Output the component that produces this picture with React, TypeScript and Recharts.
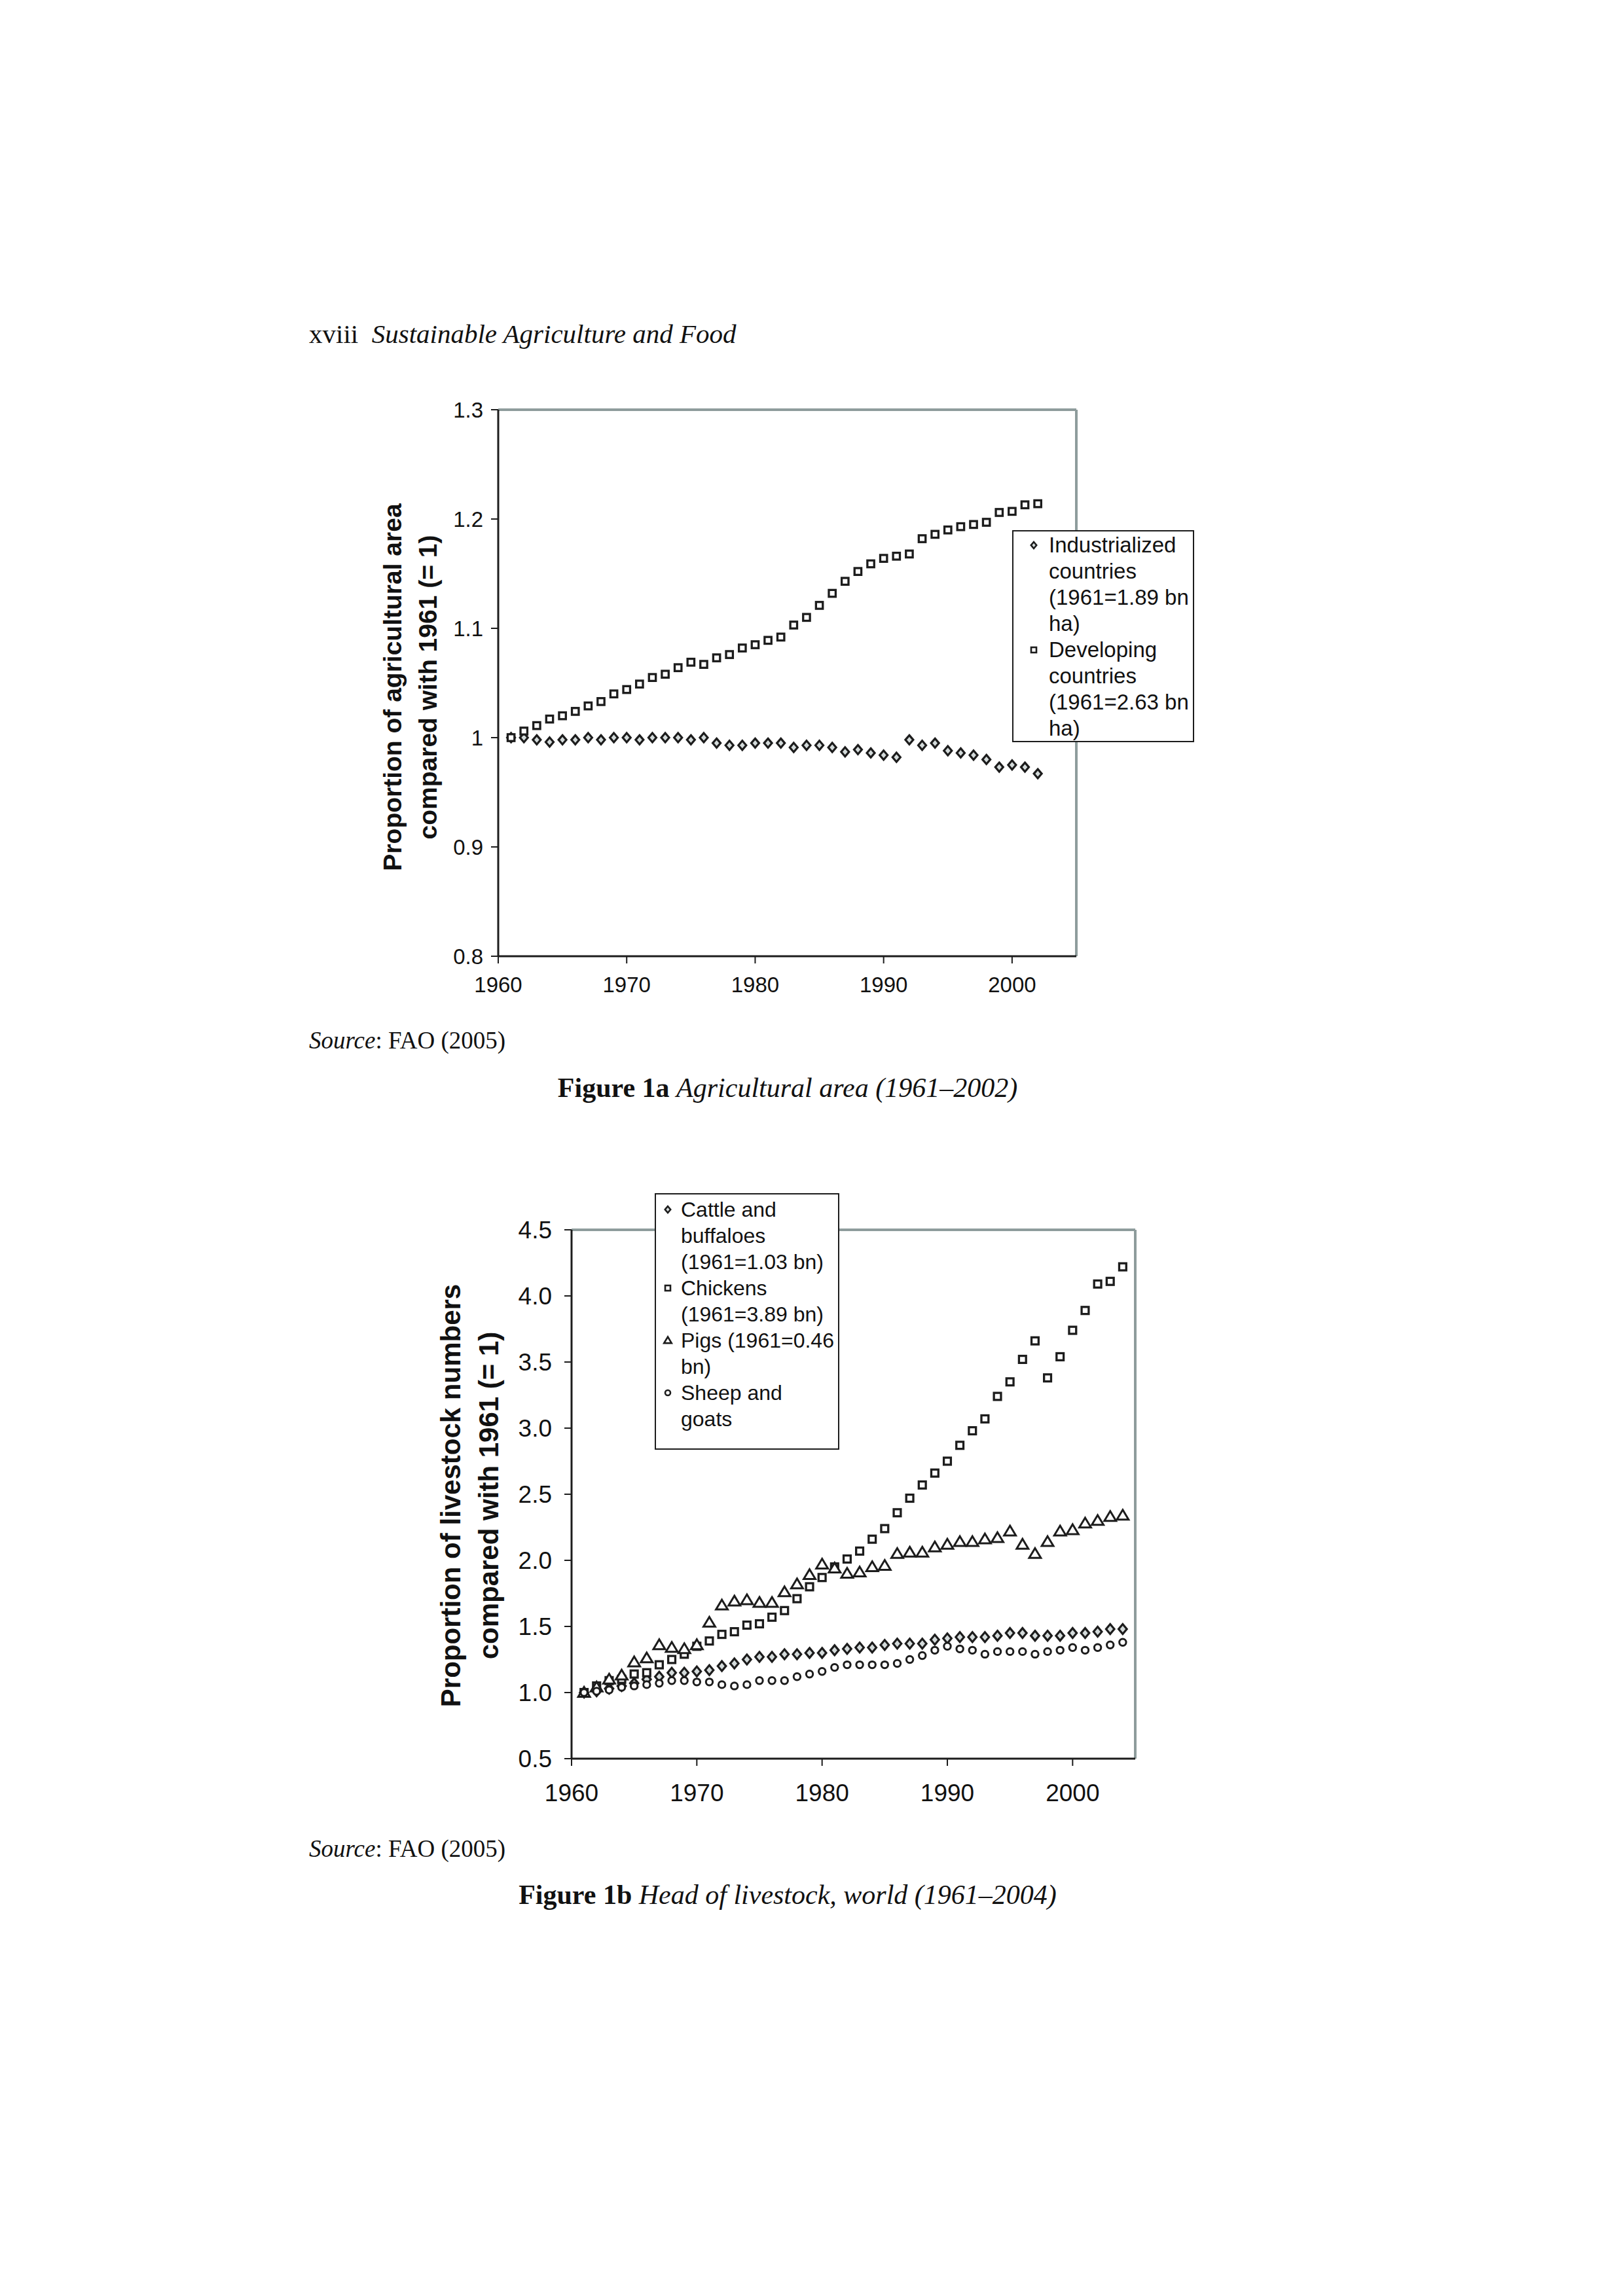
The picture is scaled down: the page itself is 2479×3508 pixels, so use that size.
import React from 'react';
import { ScatterChart, Scatter, XAxis, YAxis, Legend, ReferenceLine } from 'recharts';

// Figure 1a: agricultural area, proportion of 1961
const years1a = [
  1961, 1962, 1963, 1964, 1965, 1966, 1967, 1968, 1969, 1970,
  1971, 1972, 1973, 1974, 1975, 1976, 1977, 1978, 1979, 1980,
  1981, 1982, 1983, 1984, 1985, 1986, 1987, 1988, 1989, 1990,
  1991, 1992, 1993, 1994, 1995, 1996, 1997, 1998, 1999, 2000,
  2001, 2002,
];
const industrialized = [
  1.0, 1.0, 0.998, 0.996, 0.998, 0.998, 1.0, 0.998, 1.0, 1.0,
  0.998, 1.0, 1.0, 1.0, 0.998, 1.0, 0.995, 0.993, 0.993, 0.995,
  0.995, 0.995, 0.991, 0.993, 0.993, 0.991, 0.987, 0.989, 0.986, 0.984,
  0.982, 0.998, 0.993, 0.995, 0.988, 0.986, 0.984, 0.98, 0.973, 0.975,
  0.973, 0.967,
];
const developing = [
  1.0, 1.006, 1.011, 1.017, 1.02, 1.024, 1.029, 1.033, 1.04, 1.044,
  1.049, 1.055, 1.058, 1.064, 1.069, 1.067, 1.073, 1.076, 1.082, 1.085,
  1.089, 1.092, 1.103, 1.11, 1.121, 1.132, 1.143, 1.152, 1.159, 1.164,
  1.166, 1.168, 1.182, 1.186, 1.19, 1.193, 1.195, 1.197, 1.206, 1.207,
  1.213, 1.214,
];
const labels1a = [
  'Industrialized\ncountries\n(1961=1.89 bn\nha)',
  'Developing\ncountries\n(1961=2.63 bn\nha)',
];
const yTicks1a = [0.8, 0.9, 1, 1.1, 1.2, 1.3];

// Figure 1b: head of livestock, proportion of 1961
const years1b = [
  1961, 1962, 1963, 1964, 1965, 1966, 1967, 1968, 1969, 1970,
  1971, 1972, 1973, 1974, 1975, 1976, 1977, 1978, 1979, 1980,
  1981, 1982, 1983, 1984, 1985, 1986, 1987, 1988, 1989, 1990,
  1991, 1992, 1993, 1994, 1995, 1996, 1997, 1998, 1999, 2000,
  2001, 2002, 2003, 2004,
];
const cattle = [
  1.0, 1.01, 1.03, 1.05, 1.07, 1.1, 1.12, 1.15, 1.15, 1.16,
  1.17, 1.2, 1.22, 1.25, 1.27, 1.27, 1.29, 1.29, 1.3, 1.3,
  1.32, 1.33, 1.34, 1.34, 1.36, 1.37, 1.37, 1.37, 1.4, 1.41,
  1.42, 1.42, 1.42, 1.43, 1.45, 1.45, 1.43, 1.43, 1.43, 1.45,
  1.45, 1.46, 1.48, 1.48,
];
const chickens = [
  1.0, 1.05, 1.09, 1.1, 1.14, 1.15, 1.21, 1.25, 1.29, 1.35,
  1.39, 1.44, 1.46, 1.51, 1.52, 1.57, 1.62, 1.71, 1.8, 1.87,
  1.95, 2.01, 2.07, 2.16, 2.24, 2.36, 2.47, 2.57, 2.66, 2.75,
  2.87, 2.98, 3.07, 3.24, 3.35, 3.52, 3.66, 3.38, 3.54, 3.74,
  3.89, 4.09, 4.11, 4.22,
];
const pigs = [
  1.0, 1.04, 1.1, 1.13, 1.23, 1.26, 1.36, 1.34, 1.33, 1.36,
  1.53, 1.66, 1.69, 1.7, 1.68, 1.68, 1.76, 1.82, 1.89, 1.97,
  1.94, 1.9, 1.91, 1.95, 1.96, 2.05, 2.06, 2.06, 2.1, 2.12,
  2.14, 2.14, 2.16, 2.17, 2.22, 2.12, 2.05, 2.14, 2.22, 2.23,
  2.28, 2.3, 2.33, 2.34,
];
const sheep = [
  1.0, 1.01, 1.02, 1.04, 1.05, 1.06, 1.07, 1.09, 1.09, 1.08,
  1.08, 1.06, 1.05, 1.06, 1.09, 1.09, 1.09, 1.12, 1.14, 1.16,
  1.19, 1.21, 1.21, 1.21, 1.21, 1.22, 1.25, 1.28, 1.32, 1.35,
  1.33, 1.32, 1.29, 1.31, 1.31, 1.31, 1.29, 1.31, 1.32, 1.34,
  1.32, 1.34, 1.36, 1.38,
];
const labels1b = [
  'Cattle and\nbuffaloes\n(1961=1.03 bn)',
  'Chickens\n(1961=3.89 bn)',
  'Pigs (1961=0.46\nbn)',
  'Sheep and\ngoats',
];
const yTicks1b = [0.5, 1, 1.5, 2, 2.5, 3, 3.5, 4, 4.5];

const xTicks = [1960, 1970, 1980, 1990, 2000];

const INK = '#1c1c1c';
const FRAME = '#8e9c9c';
const SANS = '"Liberation Sans", Arial, sans-serif';
const SERIF = '"Liberation Serif", "Times New Roman", serif';

type Shape = (p: any) => React.ReactElement;

const diamond = (h: number, w: number, sw = 3.2): Shape => (p) => (
  <path
    d={`M${p.cx},${p.cy - h}L${p.cx + w},${p.cy}L${p.cx},${p.cy + h}L${p.cx - w},${p.cy}Z`}
    fill="#d4dbdb" stroke={INK} strokeWidth={sw}
  />
);
const square = (h: number, sw = 3.3): Shape => (p) => (
  <rect x={p.cx - h} y={p.cy - h} width={2 * h} height={2 * h} fill="#fff" stroke={INK} strokeWidth={sw} />
);
const triangle = (h: number, sw = 3): Shape => (p) => (
  <path
    d={`M${p.cx},${p.cy - h}L${p.cx + h * 1.05},${p.cy + h * 0.75}L${p.cx - h * 1.05},${p.cy + h * 0.75}Z`}
    fill="#fff" stroke={INK} strokeWidth={sw}
  />
);
const ring = (r: number, sw = 3): Shape => (p) => (
  <circle cx={p.cx} cy={p.cy} r={r} fill="#fff" stroke={INK} strokeWidth={sw} />
);

const toPoints = (xs: number[], ys: number[]) => xs.map((x, i) => ({ x, y: ys[i] }));

const series1a = [
  { name: labels1a[0], data: toPoints(years1a, industrialized), shape: diamond(7, 6), mark: diamond(5, 4.2, 2.6) },
  { name: labels1a[1], data: toPoints(years1a, developing), shape: square(5.2), mark: square(4, 2.6) },
];

const series1b = [
  { name: labels1b[0], data: toPoints(years1b, cattle), shape: diamond(7.5, 6.3), mark: diamond(5, 4.2, 2.6) },
  { name: labels1b[1], data: toPoints(years1b, chickens), shape: square(5.4), mark: square(4, 2.6) },
  { name: labels1b[2], data: toPoints(years1b, pigs), shape: triangle(8.5), mark: triangle(5.5, 2.6) },
  { name: labels1b[3], data: toPoints(years1b, sheep), shape: ring(5.2), mark: ring(4, 2.6) },
];

type LegendOpts = {
  width: number; height: number; fontSize: number; lineHeight: number;
  markerCol: number; markerX: number; paddingTop: number;
};

// entries drawn in series order (recharts sorts the payload by name otherwise)
const makeLegend = (series: { name: string; mark: Shape }[], o: LegendOpts) => (props: any) => {
  const names: string[] = (props.payload || []).map((e: any) => e.value);
  const shown = series.filter((s) => names.length === 0 || names.includes(s.name));
  return (
    <div
      style={{
        boxSizing: 'border-box', width: o.width, height: o.height, border: `2px solid ${INK}`,
        background: '#fff', paddingTop: o.paddingTop, fontFamily: SANS, fontSize: o.fontSize,
        lineHeight: `${o.lineHeight}px`, color: '#111',
      }}
    >
      {shown.map((s) => (
        <div key={s.name} style={{ display: 'flex', alignItems: 'flex-start' }}>
          <svg width={o.markerCol} height={o.lineHeight} style={{ flex: 'none' }}>
            {s.mark({ cx: o.markerX, cy: o.lineHeight / 2 })}
          </svg>
          <div style={{ whiteSpace: 'pre-line' }}>{s.name}</div>
        </div>
      ))}
    </div>
  );
};

const AxisTitle = ({ lines, cx, cy, fontSize, lineHeight }: { lines: string[]; cx: number; cy: number; fontSize: number; lineHeight: number }) => (
  <div
    style={{
      position: 'absolute', left: cx, top: cy, transform: 'translate(-50%, -50%) rotate(-90deg)',
      fontFamily: SANS, fontWeight: 700, fontSize, lineHeight: `${lineHeight}px`, textAlign: 'center',
      whiteSpace: 'nowrap', color: '#111',
    }}
  >
    {lines.map((l) => <div key={l}>{l}</div>)}
  </div>
);

const pageText: React.CSSProperties = { position: 'absolute', fontFamily: SERIF, color: '#111', whiteSpace: 'nowrap', lineHeight: 1 };

export default function App() {
  return (
    <div style={{ position: 'absolute', left: 0, top: 0, width: 2479, height: 3508, background: '#fff', overflow: 'hidden' }}>
      <div style={{ ...pageText, left: 472, top: 490, fontSize: 41 }}>
        xviii&nbsp;&nbsp;<i>Sustainable Agriculture and Food</i>
      </div>

      {/* Figure 1a */}
      <div style={{ position: 'absolute', left: 440, top: 560 }}>
        <ScatterChart width={1400} height={1000} margin={{ top: 66, right: 196, bottom: 39, left: 0 }}>
          <XAxis
            type="number" dataKey="x" domain={[1960, 2005]} ticks={xTicks} height={60}
            axisLine={{ stroke: INK, strokeWidth: 3 }} tickLine={{ stroke: INK, strokeWidth: 2 }}
            tickSize={11} tickMargin={21}
            tick={{ fontSize: 33, fill: '#111', fontFamily: SANS }}
          />
          <YAxis
            type="number" dataKey="y" domain={[0.8, 1.3]} ticks={yTicks1a} width={321}
            axisLine={{ stroke: INK, strokeWidth: 3 }} tickLine={{ stroke: INK, strokeWidth: 2 }}
            tickSize={11} tickMargin={12}
            tick={{ fontSize: 33, fill: '#111', fontFamily: SANS }}
          />
          <ReferenceLine y={1.3} stroke={FRAME} strokeWidth={4} />
          <ReferenceLine x={2005} stroke={FRAME} strokeWidth={4} />
          {series1a.map((s) => (
            <Scatter key={s.name} name={s.name} data={s.data} shape={s.shape} isAnimationActive={false} />
          ))}
          <Legend
            layout="vertical" align="center" verticalAlign="middle"
            wrapperStyle={{ left: 1106, top: 250 }}
            content={makeLegend(series1a, { width: 278, height: 324, fontSize: 33, lineHeight: 40, markerCol: 54, markerX: 31, paddingTop: 1 })}
          />
        </ScatterChart>
      </div>
      <AxisTitle lines={['Proportion of agricultural area', 'compared with 1961 (= 1)']} cx={627} cy={1050} fontSize={39} lineHeight={54} />

      <div style={{ ...pageText, left: 472, top: 1571, fontSize: 37 }}>
        <i>Source</i>: FAO (2005)
      </div>
      <div style={{ ...pageText, left: 1203, top: 1641, fontSize: 42, transform: 'translateX(-50%)' }}>
        <b>Figure 1a</b> <i>Agricultural area (1961–2002)</i>
      </div>

      {/* Figure 1b */}
      <div style={{ position: 'absolute', left: 440, top: 1780 }}>
        <ScatterChart width={1400} height={1000} margin={{ top: 99, right: 106, bottom: 23, left: 0 }}>
          <XAxis
            type="number" dataKey="x" domain={[1960, 2005]} ticks={xTicks} height={70}
            axisLine={{ stroke: INK, strokeWidth: 3 }} tickLine={{ stroke: INK, strokeWidth: 2 }}
            tickSize={11} tickMargin={28}
            tick={{ fontSize: 37, fill: '#111', fontFamily: SANS }}
          />
          <YAxis
            type="number" dataKey="y" domain={[0.5, 4.5]} ticks={yTicks1b} width={433}
            axisLine={{ stroke: INK, strokeWidth: 3 }} tickLine={{ stroke: INK, strokeWidth: 2 }}
            tickSize={11} tickMargin={19}
            tickFormatter={(v: number) => v.toFixed(1)}
            tick={{ fontSize: 37, fill: '#111', fontFamily: SANS }}
          />
          <ReferenceLine y={4.5} stroke={FRAME} strokeWidth={4} />
          <ReferenceLine x={2005} stroke={FRAME} strokeWidth={4} />
          {series1b.map((s) => (
            <Scatter key={s.name} name={s.name} data={s.data} shape={s.shape} isAnimationActive={false} />
          ))}
          <Legend
            layout="vertical" align="center" verticalAlign="middle"
            wrapperStyle={{ left: 560, top: 43 }}
            content={makeLegend(series1b, { width: 282, height: 392, fontSize: 32, lineHeight: 40, markerCol: 38, markerX: 18, paddingTop: 3 })}
          />
        </ScatterChart>
      </div>
      <AxisTitle lines={['Proportion of livestock numbers', 'compared with 1961 (= 1)']} cx={718} cy={2285} fontSize={42} lineHeight={58} />

      <div style={{ ...pageText, left: 472, top: 2806, fontSize: 37 }}>
        <i>Source</i>: FAO (2005)
      </div>
      <div style={{ ...pageText, left: 1203, top: 2874, fontSize: 42, transform: 'translateX(-50%)' }}>
        <b>Figure 1b</b> <i>Head of livestock, world (1961–2004)</i>
      </div>
    </div>
  );
}
